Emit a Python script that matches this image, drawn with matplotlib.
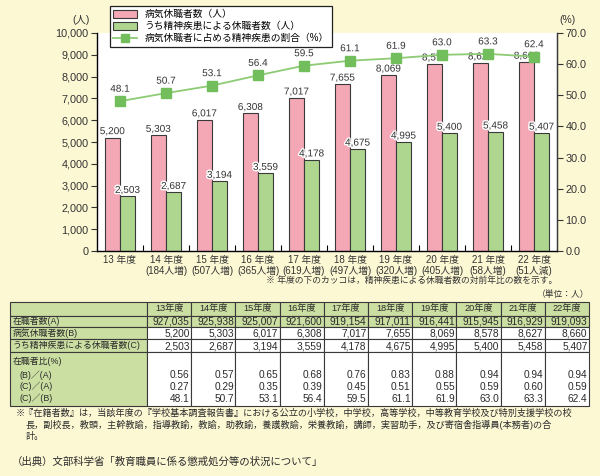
import matplotlib
matplotlib.use("Agg")
import matplotlib.pyplot as plt
import matplotlib.patheffects as pe
from matplotlib.patches import Rectangle, Patch
from matplotlib.lines import Line2D
from matplotlib.ticker import FuncFormatter, FixedLocator
import numpy as np

plt.rcParams['font.family'] = ['Liberation Sans', 'Noto Sans CJK JP', 'DejaVu Sans']

# ---- data ----
years = ['13年度', '14年度', '15年度', '16年度', '17年度', '18年度', '19年度', '20年度', '21年度', '22年度']
year_ticks = ['13 年度', '14 年度', '15 年度', '16 年度', '17 年度', '18 年度', '19 年度', '20 年度', '21 年度', '22 年度']
changes = ['', '184人増', '507人増', '365人増', '619人増', '497人増', '320人増', '405人増', '58人増', '51人減']
staff = [927035, 925938, 925007, 921600, 919154, 917011, 916441, 915945, 916929, 919093]
sick = [5200, 5303, 6017, 6308, 7017, 7655, 8069, 8578, 8627, 8660]
mental = [2503, 2687, 3194, 3559, 4178, 4675, 4995, 5400, 5458, 5407]
ratio_ba = [0.56, 0.57, 0.65, 0.68, 0.76, 0.83, 0.88, 0.94, 0.94, 0.94]
ratio_ca = [0.27, 0.29, 0.35, 0.39, 0.45, 0.51, 0.55, 0.59, 0.60, 0.59]
ratio_cb = [48.1, 50.7, 53.1, 56.4, 59.5, 61.1, 61.9, 63.0, 63.3, 62.4]

BG = '#FCF8D4'
PINK = '#F4A7B5'
GREEN = '#AED68F'
LINE = '#8DCB74'
MARK = '#72BE5C'
TGREEN = '#CBDFA2'
EDGE = '#3a3a3a'
TXT = '#333333'

W, H = 600, 476
fig = plt.figure(figsize=(6, 4.76), dpi=100, facecolor=BG)

def fx(px):
    return px / W

def fy(py):
    return 1 - py / H

# ---- main chart ----
L, R, T, B = 97, 557, 33, 251
ax = fig.add_axes([fx(L), fy(B), fx(R - L), (B - T) / H])
ax.set_facecolor('white')
x = np.arange(len(years))
bw = 0.33
halo = [pe.withStroke(linewidth=2, foreground='white')]
ax.bar(x - bw / 2, sick, bw, color=PINK, edgecolor=EDGE, linewidth=0.8, zorder=2)
ax.bar(x + bw / 2, mental, bw, color=GREEN, edgecolor=EDGE, linewidth=0.8, zorder=2)
for xi, v in zip(x, sick):
    ax.text(xi - bw / 2, v + 70, f'{v:,}', ha='center', va='bottom', fontsize=7.2,
            color=TXT, path_effects=halo, zorder=5)
for xi, v in zip(x, mental):
    ax.text(xi + bw / 2, v + 70, f'{v:,}', ha='center', va='bottom', fontsize=7.2,
            color=TXT, path_effects=halo, zorder=5)
ax.set_xlim(-0.5, len(years) - 0.5)
ax.set_ylim(0, 10000)
ax.set_yticks(np.arange(0, 10001, 1000))
ax.yaxis.set_major_formatter(FuncFormatter(lambda v, p: f'{int(v):,}'))
ax.tick_params(axis='y', labelsize=7.8, length=4, width=0.8, pad=2, colors=TXT)
ax.set_xticks(x)
xt = [t if c == '' else f'{t}\n({c})' for t, c in zip(year_ticks, changes)]
ax.set_xticklabels(xt, fontsize=7, linespacing=1.05, color=TXT, va='top')
ax.tick_params(axis='x', length=0, pad=3)
ax.xaxis.set_minor_locator(FixedLocator(np.arange(0.5, len(years) - 1, 1)))
ax.tick_params(axis='x', which='minor', direction='in', length=4, width=0.8)
ax.spines['top'].set_visible(False)
for s in ['left', 'right', 'bottom']:
    ax.spines[s].set_color(EDGE)
    ax.spines[s].set_linewidth(1.0)

ax2 = ax.twinx()
ax2.set_ylim(0, 70)
ax2.set_yticks(np.arange(0, 71, 10))
ax2.yaxis.set_major_formatter(FuncFormatter(lambda v, p: f'{v:.1f}'))
ax2.tick_params(axis='y', labelsize=7.8, length=4, width=0.8, pad=2, colors=TXT)
ax2.spines['top'].set_visible(False)
ax2.spines['right'].set_color(EDGE)
ax2.plot(x, ratio_cb, color=LINE, linewidth=1.3, marker='s', markersize=7,
         markerfacecolor=MARK, markeredgecolor=MARK, zorder=4)
for xi, v in zip(x, ratio_cb):
    ax2.text(xi, v + 2.4, f'{v:.1f}', ha='center', va='bottom', fontsize=7.2,
             color=TXT, path_effects=halo, zorder=5)

handles = [Patch(facecolor=PINK, edgecolor=EDGE, linewidth=0.8),
           Patch(facecolor=GREEN, edgecolor=EDGE, linewidth=0.8),
           Line2D([0], [0], color=LINE, linewidth=1.3, marker='s', markersize=6,
                  markerfacecolor=MARK, markeredgecolor=MARK)]
labels = ['病気休職者数（人）', 'うち精神疾患による休職者数（人）', '病気休職者に占める精神疾患の割合（%）']
leg = fig.legend(handles, labels, loc='upper left', bbox_to_anchor=(fx(110), fy(6)),
                 fontsize=7, frameon=True, fancybox=False, edgecolor='#222222',
                 framealpha=1, borderpad=0.35, labelspacing=0.2, handlelength=2.4,
                 handleheight=0.9, borderaxespad=0)
leg.get_frame().set_linewidth(0.9)

# ---- overlay for texts and table ----
ov = fig.add_axes([0, 0, 1, 1], zorder=-1)
ov.set_xlim(0, W)
ov.set_ylim(H, 0)
ov.axis('off')
ov.patch.set_alpha(0)

fig.text(fx(81), fy(20), '(人)', ha='center', va='center', fontsize=7.5, color=TXT)
fig.text(fx(567), fy(20), '(%)', ha='center', va='center', fontsize=7.5, color=TXT)
fig.text(fx(557), fy(281), '※ 年度の下のカッコは，精神疾患による休職者数の対前年比の数を示す。',
         ha='right', va='center', fontsize=6.3, color=TXT)
fig.text(fx(589), fy(295), '（単位：人）', ha='right', va='center', fontsize=6.3, color=TXT)

# table
tx0, tx1, cx = 10, 589, 147
cw = (tx1 - cx) / len(years)
rows_y = [302, 316, 327, 339, 352, 406]
fills = [TGREEN, TGREEN, 'white', 'white', 'white']
for r in range(5):
    y0, y1 = rows_y[r], rows_y[r + 1]
    ov.add_patch(Rectangle((tx0, y0), cx - tx0, y1 - y0, facecolor=TGREEN, edgecolor=EDGE, linewidth=0.8))
    for c in range(len(years)):
        ov.add_patch(Rectangle((cx + c * cw, y0), cw, y1 - y0, facecolor=fills[r],
                               edgecolor=EDGE, linewidth=0.8))

fs = 7.3
lfs = 6.4
tcol = '#2a2a2a'
for c, yr in enumerate(years):
    ov.text(cx + (c + 0.5) * cw, (rows_y[0] + rows_y[1]) / 2, yr, ha='center', va='center', fontsize=6.6, color=tcol)

row_labels = ['在職者数(A)', '病気休職者数(B)', 'うち精神疾患による休職者数(C)']
row_vals = [staff, sick, mental]
for r, (lab, vals) in enumerate(zip(row_labels, row_vals)):
    yc = (rows_y[r + 1] + rows_y[r + 2]) / 2
    yb = rows_y[r + 2] - 2.2
    ov.text(13, yc, lab, ha='left', va='center', fontsize=lfs, color=tcol)
    for c, v in enumerate(vals):
        ov.text(cx + (c + 1) * cw - 1.5, yb, f'{v:,}', ha='right', va='baseline', fontsize=fs, color=tcol)

ov.text(13, 361, '在職者比(%)', ha='left', va='center', fontsize=lfs, color=tcol)
sub_labels = ['(B)／(A)', '(C)／(A)', '(C)／(B)']
sub_vals = [ratio_ba, ratio_ca, ratio_cb]
sub_y = [375, 386, 398]
for lab, vals, yc in zip(sub_labels, sub_vals, sub_y):
    ov.text(20, yc, lab, ha='left', va='center', fontsize=lfs, color=tcol)
    for c, v in enumerate(vals):
        txt = f'{v:.1f}' if vals is ratio_cb else f'{v:.2f}'
        ov.text(cx + (c + 1) * cw - 1.5, yc + 3.5, txt, ha='right', va='baseline', fontsize=fs, color=tcol)

# footnotes
note = ['※『在籍者数』は，当該年度の『学校基本調査報告書』における公立の小学校，中学校，高等学校，中等教育学校及び特別支援学校の校',
        '長，副校長，教頭，主幹教諭，指導教諭，教諭，助教諭，養護教諭，栄養教諭，講師，実習助手，及び寄宿舎指導員(本務者)の合',
        '計。']
ov.text(16, 413, note[0], ha='left', va='center', fontsize=6.6, color=tcol)
ov.text(26, 425, note[1], ha='left', va='center', fontsize=6.6, color=tcol)
ov.text(26, 437, note[2], ha='left', va='center', fontsize=6.6, color=tcol)
ov.text(12, 462, '（出典）文部科学省「教育職員に係る懲戒処分等の状況について」', ha='left', va='center',
        fontsize=7.5, color=tcol)

fig.savefig('out.png', dpi=100, facecolor=BG)
